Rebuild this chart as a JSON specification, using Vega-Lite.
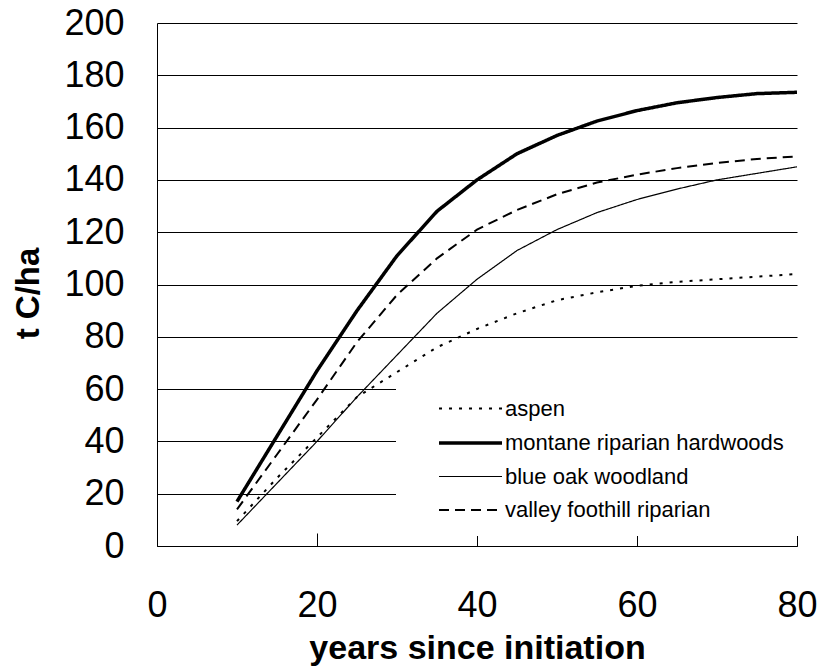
{
  "$schema": "https://vega.github.io/schema/vega-lite/v6.json",
  "autosize": {"type": "none"},
  "width": 640,
  "height": 523,
  "padding": {"left": 157, "top": 23, "right": 20, "bottom": 121},
  "background": "white",
  "config": {
    "view": {"stroke": null},
    "font": "Liberation Sans"
  },
  "data": {
    "values": [
      {"year": 10, "series": "aspen", "value": 9.5},
      {"year": 15, "series": "aspen", "value": 26},
      {"year": 20, "series": "aspen", "value": 41.5},
      {"year": 25, "series": "aspen", "value": 57},
      {"year": 30, "series": "aspen", "value": 66.5},
      {"year": 35, "series": "aspen", "value": 76},
      {"year": 40, "series": "aspen", "value": 83},
      {"year": 45, "series": "aspen", "value": 89},
      {"year": 50, "series": "aspen", "value": 94},
      {"year": 55, "series": "aspen", "value": 97},
      {"year": 60, "series": "aspen", "value": 99.5},
      {"year": 65, "series": "aspen", "value": 101},
      {"year": 70, "series": "aspen", "value": 102},
      {"year": 75, "series": "aspen", "value": 103},
      {"year": 80, "series": "aspen", "value": 104},
      {"year": 10, "series": "montane riparian hardwoods", "value": 17},
      {"year": 15, "series": "montane riparian hardwoods", "value": 42},
      {"year": 20, "series": "montane riparian hardwoods", "value": 67},
      {"year": 25, "series": "montane riparian hardwoods", "value": 90},
      {"year": 30, "series": "montane riparian hardwoods", "value": 111},
      {"year": 35, "series": "montane riparian hardwoods", "value": 128},
      {"year": 40, "series": "montane riparian hardwoods", "value": 140},
      {"year": 45, "series": "montane riparian hardwoods", "value": 150},
      {"year": 50, "series": "montane riparian hardwoods", "value": 157},
      {"year": 55, "series": "montane riparian hardwoods", "value": 162.5},
      {"year": 60, "series": "montane riparian hardwoods", "value": 166.5},
      {"year": 65, "series": "montane riparian hardwoods", "value": 169.5},
      {"year": 70, "series": "montane riparian hardwoods", "value": 171.5},
      {"year": 75, "series": "montane riparian hardwoods", "value": 173},
      {"year": 80, "series": "montane riparian hardwoods", "value": 173.5},
      {"year": 10, "series": "blue oak woodland", "value": 8},
      {"year": 15, "series": "blue oak woodland", "value": 24},
      {"year": 20, "series": "blue oak woodland", "value": 40},
      {"year": 25, "series": "blue oak woodland", "value": 57},
      {"year": 30, "series": "blue oak woodland", "value": 73},
      {"year": 35, "series": "blue oak woodland", "value": 89},
      {"year": 40, "series": "blue oak woodland", "value": 102},
      {"year": 45, "series": "blue oak woodland", "value": 113},
      {"year": 50, "series": "blue oak woodland", "value": 121},
      {"year": 55, "series": "blue oak woodland", "value": 127.5},
      {"year": 60, "series": "blue oak woodland", "value": 132.5},
      {"year": 65, "series": "blue oak woodland", "value": 136.5},
      {"year": 70, "series": "blue oak woodland", "value": 140},
      {"year": 75, "series": "blue oak woodland", "value": 142.5},
      {"year": 80, "series": "blue oak woodland", "value": 145},
      {"year": 10, "series": "valley foothill riparian", "value": 14},
      {"year": 15, "series": "valley foothill riparian", "value": 35},
      {"year": 20, "series": "valley foothill riparian", "value": 56},
      {"year": 25, "series": "valley foothill riparian", "value": 78},
      {"year": 30, "series": "valley foothill riparian", "value": 96},
      {"year": 35, "series": "valley foothill riparian", "value": 110},
      {"year": 40, "series": "valley foothill riparian", "value": 121},
      {"year": 45, "series": "valley foothill riparian", "value": 128.5},
      {"year": 50, "series": "valley foothill riparian", "value": 134.5},
      {"year": 55, "series": "valley foothill riparian", "value": 139},
      {"year": 60, "series": "valley foothill riparian", "value": 142},
      {"year": 65, "series": "valley foothill riparian", "value": 144.5},
      {"year": 70, "series": "valley foothill riparian", "value": 146.5},
      {"year": 75, "series": "valley foothill riparian", "value": 148},
      {"year": 80, "series": "valley foothill riparian", "value": 149}
    ]
  },
  "mark": {"type": "line", "color": "black", "interpolate": "linear"},
  "encoding": {
    "x": {
      "field": "year",
      "type": "quantitative",
      "scale": {"domain": [0, 80], "nice": false},
      "axis": {
        "values": [0, 20, 40, 60, 80],
        "grid": false,
        "domainColor": "black",
        "domainWidth": 1,
        "tickColor": "black",
        "tickSize": -13,
        "labelPadding": 55,
        "labelFontSize": 36,
        "labelColor": "black",
        "labelFont": "Liberation Sans",
        "labelFlush": false,
        "title": "years since initiation",
        "titleFontSize": 34,
        "titleFontWeight": "bold",
        "titleColor": "black",
        "titleFont": "Liberation Sans",
        "titleX": 320,
        "titleY": 112,
        "titleAlign": "center",
        "titleBaseline": "alphabetic"
      }
    },
    "y": {
      "field": "value",
      "type": "quantitative",
      "scale": {"domain": [0, 200], "nice": false},
      "axis": {
        "values": [0, 20, 40, 60, 80, 100, 120, 140, 160, 180, 200],
        "grid": true,
        "gridColor": "black",
        "gridWidth": 1,
        "domainColor": "black",
        "ticks": false,
        "labelPadding": 33,
        "labelFontSize": 36,
        "labelColor": "black",
        "labelFont": "Liberation Sans",
        "title": "t C/ha",
        "titleFontSize": 33,
        "titleFontWeight": "bold",
        "titleColor": "black",
        "titleFont": "Liberation Sans",
        "titleAngle": -90,
        "titleX": -129,
        "titleY": 270,
        "titleAlign": "center",
        "titleBaseline": "middle"
      }
    },
    "strokeDash": {
      "field": "series",
      "type": "nominal",
      "scale": {
        "domain": ["aspen", "montane riparian hardwoods", "blue oak woodland", "valley foothill riparian"],
        "range": [[3, 7], [1, 0], [1, 0], [10, 6]]
      },
      "legend": {
        "orient": "none",
        "legendX": 239,
        "legendY": 359,
        "title": null,
        "fillColor": "white",
        "padding": 15,
        "symbolType": "M-3,0H3",
        "symbolSize": 441,
        "symbolStrokeColor": "black",
        "symbolOffset": 47,
        "labelOffset": 22,
        "labelFontSize": 22,
        "labelFont": "Liberation Sans",
        "labelColor": "black",
        "labelLimit": 400,
        "rowPadding": 10.5
      }
    },
    "strokeWidth": {
      "field": "series",
      "type": "nominal",
      "scale": {
        "type": "ordinal",
        "domain": ["aspen", "montane riparian hardwoods", "blue oak woodland", "valley foothill riparian"],
        "range": [2, 3.5, 1.2, 2]
      },
      "legend": {
        "orient": "none",
        "legendX": 239,
        "legendY": 359,
        "title": null,
        "fillColor": "white",
        "padding": 15,
        "symbolType": "M-3,0H3",
        "symbolSize": 441,
        "symbolStrokeColor": "black",
        "symbolOffset": 47,
        "labelOffset": 22,
        "labelFontSize": 22,
        "labelFont": "Liberation Sans",
        "labelColor": "black",
        "labelLimit": 400,
        "rowPadding": 10.5
      }
    }
  }
}
